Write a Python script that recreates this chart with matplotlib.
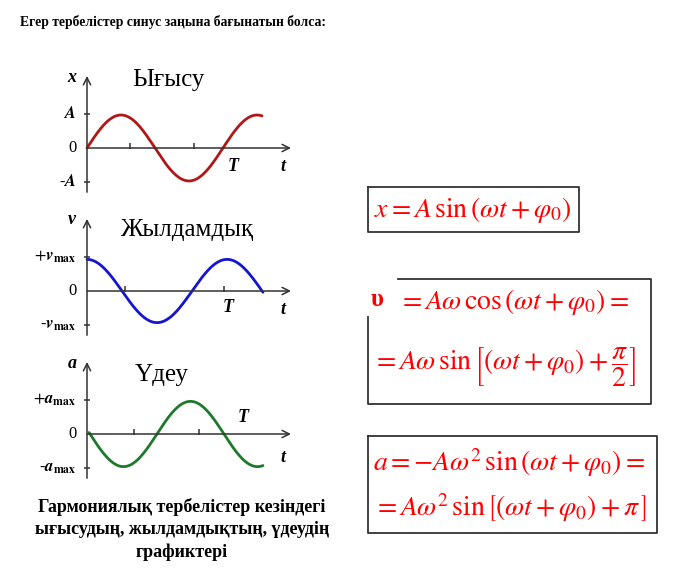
import matplotlib
matplotlib.use("Agg")
import matplotlib.pyplot as plt
import numpy as np

plt.rcParams["font.family"] = ["Liberation Serif", "DejaVu Serif"]
plt.rcParams["mathtext.fontset"] = "stix"

W, H = 678, 578
PX_T = 136      # pixels per time unit (one displacement period)
PX_Y = 34       # pixels per amplitude unit

AXIS_COL = "#333333"
FORM_RED = "#FF0000"

# ---- values (time in units of the displacement period)
TITLES      = ["Ығысу", "Жылдамдық", "Үдеу"]
AXIS_NAMES  = ["x", "v", "a"]
TOP_LABELS  = [r"$\mathbfit{A}$", r"$+\mathbfit{v}_{\mathbf{max}}$", r"$+\mathbfit{a}_{\mathbf{max}}$"]
BOT_LABELS  = [r"$\mathbf{\text{-}}\mathbfit{A}$", r"$\text{-}\mathbfit{v}_{\mathbf{max}}$", r"$\text{-}\mathbfit{a}_{\mathbf{max}}$"]
CURVE_COLS  = ["#B01818", "#1414D2", "#1E7A2A"]

PERIODS     = [1.00, 1.03, 0.985]
AMPLITUDES  = [0.97, 0.93, 0.96]
KINDS       = ["sin", "cos", "-sin"]
T_START     = [0.0, 0.0, 0.015]
T_SHIFT     = [0.0, 0.0, 0.022]
T_END       = [1.287, 1.294, 1.294]
X_TICKS     = [[0.316, 0.787], [0.28, 1.007], [0.346, 0.824]]
Y_TICKS     = [-1.0, 1.0]

# layout (pixels in the figure)
ORIGINS     = [(87, 148), (87, 291), (87, 434)]
TITLE_POS   = [(168, 80), (187, 230), (162, 375)]
NAME_POS    = [(72, 78), (72, 220), (72, 363)]
TLAB_POS    = [(233, 167), (228, 307), (243, 417)]
tlab_pos    = [(283, 167), (283, 310), (283, 457)]


def curve(k, t):
    ph = 2 * np.pi * (t - T_SHIFT[k]) / PERIODS[k]
    if KINDS[k] == "sin":
        return AMPLITUDES[k] * np.sin(ph)
    if KINDS[k] == "cos":
        return AMPLITUDES[k] * np.cos(ph)
    return -AMPLITUDES[k] * np.sin(ph)


def panel(fig, k):
    ox, oy = ORIGINS[k]
    left, right, up, down = 20, 300, 95, 55
    ax = fig.add_axes([left / W, 1 - (oy + down) / H, (right - left) / W, (up + down) / H])
    ax.set_xlim((left - ox) / PX_T, (right - ox) / PX_T)
    ax.set_ylim(-down / PX_Y, up / PX_Y)
    ax.axis("off")
    ax.patch.set_alpha(0)

    def p(x, y):
        return (x - ox) / PX_T, (oy - y) / PX_Y

    # axes with open arrows
    ax.annotate("", xy=(1.5, 0), xytext=(0, 0),
                arrowprops=dict(arrowstyle="->", lw=1.1, color=AXIS_COL,
                                shrinkA=0, shrinkB=0, mutation_scale=13))
    ax.annotate("", xy=(0, 2.12), xytext=(0, -1.3),
                arrowprops=dict(arrowstyle="->", lw=1.1, color=AXIS_COL,
                                shrinkA=0, shrinkB=0, mutation_scale=13))
    ax.plot(X_TICKS[k], [0.05] * len(X_TICKS[k]), ls="none", marker="|",
            ms=5, mew=1.1, color=AXIS_COL)
    ax.plot([0] * len(Y_TICKS), Y_TICKS, ls="none", marker="_",
            ms=5, mew=1.1, color=AXIS_COL)

    t = np.linspace(T_START[k], T_END[k], 300)
    ax.plot(t, curve(k, t), color=CURVE_COLS[k], lw=2.0, solid_capstyle="round")

    ax.text(*p(*TITLE_POS[k]), TITLES[k], fontsize=18, ha="center", va="center")
    ax.text(*p(*NAME_POS[k]), AXIS_NAMES[k], fontsize=13, ha="center", va="center",
            fontweight="bold", style="italic")
    ax.text(*p(76, oy - PX_Y), TOP_LABELS[k], fontsize=12, ha="right", va="center")
    ax.text(*p(77, oy), "0", fontsize=12, ha="right", va="center")
    ax.text(*p(76, oy + PX_Y), BOT_LABELS[k], fontsize=12, ha="right", va="center")
    ax.text(*p(*TLAB_POS[k]), "T", fontsize=13, ha="center", va="center",
            fontweight="bold", style="italic")
    ax.text(*p(*tlab_pos[k]), "t", fontsize=13, ha="center", va="center",
            fontweight="bold", style="italic")


def main():
    fig = plt.figure(figsize=(W / 100, H / 100), dpi=100)
    for k in range(3):
        panel(fig, k)

    ov = fig.add_axes([0, 0, 1, 1])
    ov.set_xlim(0, W)
    ov.set_ylim(H, 0)
    ov.axis("off")
    ov.patch.set_alpha(0)

    lw = 1.3
    # box 1
    ov.plot([368, 579, 579, 368, 368], [187, 187, 232, 232, 187], color=AXIS_COL, lw=lw)
    # box 2 (open at top left)
    ov.plot([398, 651, 651, 368, 368], [279, 279, 404, 404, 317], color=AXIS_COL, lw=lw)
    # box 3
    ov.plot([368, 657, 657, 368, 368], [436, 436, 533, 533, 436], color=AXIS_COL, lw=lw)

    fs = 20
    ov.text(473, 210, r"$x = A\,\sin\left(\omega t + \varphi_0\right)$",
            color=FORM_RED, fontsize=fs, ha="center", va="center")
    ov.text(377, 300, "υ", color=FORM_RED, fontsize=18, fontweight="bold",
            ha="center", va="center")
    ov.text(398, 302, r"$= A\omega\,\cos\left(\omega t + \varphi_0\right) =$",
            color=FORM_RED, fontsize=fs, ha="left", va="center")
    ov.text(372, 367, r"$= A\omega\,\sin\left[\left(\omega t + \varphi_0\right) + \dfrac{\pi}{2}\right]$",
            color=FORM_RED, fontsize=fs, ha="left", va="center")
    ov.text(373, 463, r"$a = -A\omega^2\,\sin\left(\omega t + \varphi_0\right) =$",
            color=FORM_RED, fontsize=fs, ha="left", va="center")
    ov.text(373, 508, r"$= A\omega^2\,\sin\left[\left(\omega t + \varphi_0\right) + \pi\,\right]$",
            color=FORM_RED, fontsize=fs, ha="left", va="center")

    ov.text(20, 22, "Егер тербелістер синус заңына бағынатын болса:",
            fontsize=9.8, fontweight="bold", ha="left", va="center")
    for y, line in zip([507, 530, 552], ["Гармониялық тербелістер кезіндегі",
                                         "ығысудың, жылдамдықтың, үдеудің",
                                         "графиктері"]):
        ov.text(182, y, line, fontsize=13, fontweight="bold", ha="center", va="center")

    fig.savefig("out.png", dpi=100)


if __name__ == "__main__":
    main()
